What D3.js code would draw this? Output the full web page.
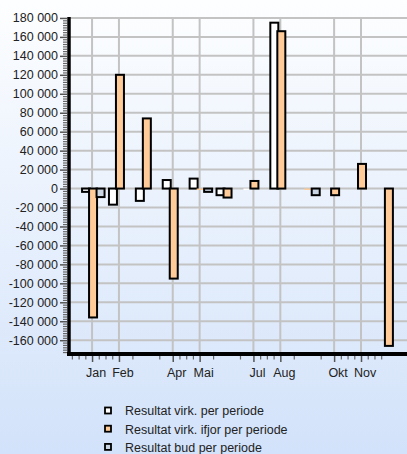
<!DOCTYPE html>
<html>
<head>
<meta charset="utf-8">
<script src="https://cdn.jsdelivr.net/npm/d3@7"></script>
<style>
body{margin:0;background:#fff;}
svg{display:block;font-family:"Liberation Sans",Arial,sans-serif;}
</style>
</head>
<body>
<svg id="chart" width="407" height="454"></svg>
<script>
// data
var months = ["Jan","Feb","Mar","Apr","Mai","Jun","Jul","Aug","Sep","Okt","Nov","Des"];
var labelledMonths = ["Jan","Feb","Apr","Mai","Jul","Aug","Okt","Nov"];
var virk = [-3500,-17000,-13000,9000,10500,-7000,-1500,175000,null,null,null,null];
var virkIfjor = [-136000,120000,74000,-95000,-1500,-9500,8000,166000,-1500,-7000,26000,-166000];
var bud = [-9000,0,0,0,-3500,0,0,0,-7000,0,0,0];
var seriesNames = ["Resultat virk. per periode","Resultat virk. ifjor per periode","Resultat bud per periode"];
var yTicks = d3.range(-160000, 180001, 20000);

var seriesValues = [virk, virkIfjor, bud];
var seriesColors = ["#ffffff","#ffcc99","#c9d5e2"];
var seriesOffset = [-10, -3, 4.5];
var barWidth = 8;

var svg = d3.select("#chart");
var width = +svg.attr("width"), height = +svg.attr("height");
var plot = {left: 70, right: 407, top: 17, bottom: 353};

// background gradient
var grad = svg.append("defs").append("linearGradient")
    .attr("id","bg").attr("x1",0).attr("y1",0).attr("x2",0).attr("y2",1);
grad.append("stop").attr("offset","0%").attr("stop-color","#fdfeff");
grad.append("stop").attr("offset","100%").attr("stop-color","#d2e2fa");
svg.append("rect").attr("width",width).attr("height",height).attr("fill","url(#bg)");

// scales
var x = d3.scaleLinear().domain([-0.82, 11.71]).range([plot.left, plot.right]);
var y = d3.scaleLinear().domain([-173500, 181000]).range([plot.bottom, plot.top]);

var fmt = d3.formatLocale({decimal:",", thousands:" ", grouping:[3], currency:["",""], minus:"-"}).format(",d");
var labelIdx = labelledMonths.map(function(m){ return months.indexOf(m); });

// grid
var grid = svg.append("g").attr("stroke","#c3c3c3").attr("stroke-width",2);
grid.selectAll(".hgrid").data(yTicks).enter().append("line")
    .attr("x1",plot.left).attr("x2",plot.right)
    .attr("y1",function(d){ return y(d); }).attr("y2",function(d){ return y(d); });
grid.selectAll(".vgrid").data(labelIdx).enter().append("line")
    .attr("y1",plot.top).attr("y2",plot.bottom)
    .attr("x1",function(d){ return x(d); }).attr("x2",function(d){ return x(d); });

// bars, drawn series by series so later ones overlap
seriesValues.forEach(function(vals, s){
    var data = vals.map(function(v,i){ return {i:i, v:v}; })
        .filter(function(d){ return d.v !== null && d.v !== 0; });
    svg.append("g").selectAll("rect").data(data).enter().append("rect")
        .attr("x",function(d){ return x(d.i) + seriesOffset[s]; })
        .attr("width",barWidth)
        .attr("y",function(d){ return Math.min(y(d.v), y(0)); })
        .attr("height",function(d){ return Math.abs(y(d.v) - y(0)); })
        .attr("fill",seriesColors[s])
        .attr("stroke",function(d){ return Math.abs(y(d.v) - y(0)) < 2.5 ? "none" : "#000"; })
        .attr("stroke-width",2);
});

// y axis
var minorY = d3.range(-172500, 181000, 2500).filter(function(d){ return d % 20000 !== 0; });
svg.append("g").attr("transform","translate(67,0)")
    .call(d3.axisLeft(y).tickValues(minorY).tickSize(4).tickFormat(""))
    .call(function(g){ g.select(".domain").remove(); g.selectAll("line").attr("stroke","#666").attr("stroke-width",1.2); });
var yAxis = svg.append("g").attr("transform","translate(67,0)")
    .call(d3.axisLeft(y).tickValues(yTicks).tickSize(7).tickPadding(2).tickFormat(fmt));
yAxis.select(".domain").remove();
yAxis.selectAll("line").attr("stroke","#555").attr("stroke-width",1.5);
yAxis.selectAll("text").attr("font-size","12.5px").attr("fill","#222").attr("font-family","'Liberation Sans',Arial,sans-serif");

// x axis
var minorX = [];
d3.range(-1, 11).forEach(function(m){
    var step = labelIdx.indexOf(m) >= 0 && labelIdx.indexOf(m+1) >= 0 || m === -1 || m === 10 ? 0.25 : 0.5;
    for (var t = m + step; t < m + 1 - 1e-6; t += step) minorX.push(t);
});
minorX = minorX.filter(function(t){ return t > -0.82 && t < 10.9; });
svg.append("g").attr("transform","translate(0,356)")
    .call(d3.axisBottom(x).tickValues(minorX).tickSize(3.5).tickFormat(""))
    .call(function(g){ g.select(".domain").remove(); g.selectAll("line").attr("stroke","#666").attr("stroke-width",1.2); });
var xAxis = svg.append("g").attr("transform","translate(0,356)")
    .call(d3.axisBottom(x).tickValues(labelIdx).tickSize(6).tickPadding(6).tickFormat(function(i){ return months[i]; }));
xAxis.select(".domain").remove();
xAxis.selectAll("line").attr("stroke","#555").attr("stroke-width",1.5);
xAxis.selectAll("text").attr("font-size","12.5px").attr("fill","#222").attr("dx",3.5)
    .attr("font-family","'Liberation Sans',Arial,sans-serif");

// axis lines
svg.append("line").attr("x1",69).attr("x2",69).attr("y1",plot.top).attr("y2",356)
    .attr("stroke","#000").attr("stroke-width",3.5);
svg.append("line").attr("x1",67).attr("x2",plot.right).attr("y1",354).attr("y2",354)
    .attr("stroke","#000").attr("stroke-width",4);

// legend
var legend = svg.append("g").selectAll("g").data(seriesNames).enter().append("g")
    .attr("transform",function(d,i){ return "translate(0," + (411 + i*18.2) + ")"; });
legend.append("rect").attr("x",105).attr("y",-3.5).attr("width",6).attr("height",6)
    .attr("fill",function(d,i){ return seriesColors[i]; })
    .attr("stroke","#000").attr("stroke-width",1.8);
legend.append("text").attr("x",125).attr("y",4.3)
    .attr("font-size","12.5px").attr("fill","#222")
    .text(function(d){ return d; });
</script>
</body>
</html>
